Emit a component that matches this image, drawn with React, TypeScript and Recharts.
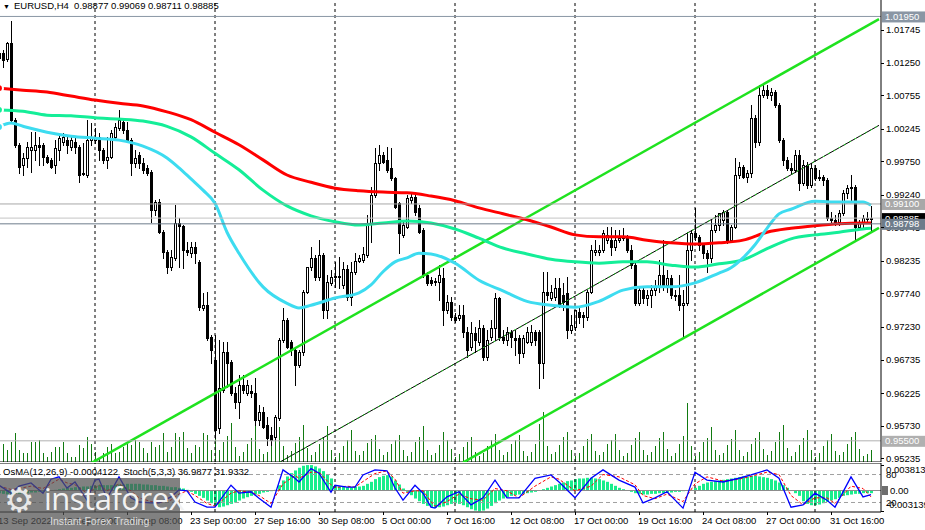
import React from "react"
import { ComposedChart, Bar, Line, XAxis, YAxis, ReferenceLine } from "recharts"

const FONT = "'Liberation Sans', Arial, sans-serif"

// ---- price data (EURUSD H4), one entry per bar ----
const opens = [
  1.0132, 1.0139, 1.013, 1.0155, 1.0038, 1.0, 0.9969, 0.998, 0.9992, 0.9992,
  1.0, 1.0, 0.9981, 0.9977, 0.9969, 0.9992, 1.0004, 1.0007, 0.9997, 1.0004,
  0.9997, 0.9955, 0.9954, 1.0007, 1.0007, 1.0012, 0.9992, 0.9977, 0.9981, 1.0012,
  1.0025, 1.0035, 1.0022, 1.0007, 0.9972, 0.9984, 0.9972, 0.9965, 0.9959, 0.9901,
  0.9913, 0.9867, 0.9837, 0.9814, 0.9828, 0.9881, 0.9877, 0.984, 0.9835, 0.9845,
  0.9822, 0.9752, 0.9756, 0.9708, 0.9673, 0.9569, 0.9627, 0.9685, 0.967, 0.9623,
  0.9609, 0.9635, 0.9623, 0.9626, 0.9623, 0.9582, 0.9594, 0.9574, 0.9559, 0.9556,
  0.9585, 0.9703, 0.9734, 0.97, 0.9688, 0.9665, 0.9685, 0.9776, 0.9814, 0.9828,
  0.9799, 0.9832, 0.9749, 0.979, 0.9799, 0.98, 0.9787, 0.9811, 0.9769, 0.9807,
  0.9823, 0.9825, 0.9832, 0.9881, 0.9924, 0.9972, 0.9984, 0.9977, 0.9965, 0.9949,
  0.9911, 0.9863, 0.9875, 0.9916, 0.9921, 0.9904, 0.987, 0.9802, 0.9794, 0.9793,
  0.9791, 0.9797, 0.9749, 0.9761, 0.9738, 0.9737, 0.9741, 0.9715, 0.9693, 0.9714,
  0.97, 0.9721, 0.9677, 0.9708, 0.9721, 0.9767, 0.9708, 0.9703, 0.9715, 0.9706,
  0.9706, 0.9683, 0.97, 0.97, 0.9715, 0.9715, 0.9668, 0.9776, 0.9767, 0.9769,
  0.9782, 0.9772, 0.9775, 0.9718, 0.9723, 0.9746, 0.9741, 0.9738, 0.9776, 0.9837,
  0.9837, 0.984, 0.9855, 0.9855, 0.9845, 0.9855, 0.9858, 0.986, 0.984, 0.9817,
  0.9759, 0.9779, 0.9767, 0.9772, 0.9779, 0.9784, 0.9802, 0.9787, 0.9797, 0.9772,
  0.9772, 0.9756, 0.9759, 0.984, 0.9866, 0.986, 0.9848, 0.9835, 0.9828, 0.987,
  0.9878, 0.9886, 0.9898, 0.9855, 0.9875, 0.9954, 0.9966, 0.9951, 0.9957, 1.0041,
  1.0004, 1.0076, 1.0083, 1.0076, 1.008, 1.006, 1.0007, 0.9977, 0.9965, 0.9962,
  0.9984, 0.9942, 0.9969, 0.9939, 0.9965, 0.9949, 0.9951, 0.9946, 0.9889, 0.9886,
  0.9883, 0.9896, 0.9927, 0.9934, 0.9936, 0.9875, 0.9883, 0.9889, 0.98877,
]
const highs = [
  1.0144, 1.0144, 1.0156, 1.0188, 1.0041, 1.0003, 0.9987, 1.0004, 1.0019, 1.0019,
  1.0012, 1.0003, 0.9984, 0.998, 1.0007, 1.0015, 1.0018, 1.0012, 1.0012, 1.0012,
  1.0, 1.0003, 1.0038, 1.0033, 1.0025, 1.0018, 0.9995, 1.0012, 1.0022, 1.0033,
  1.0053, 1.0041, 1.0035, 1.001, 0.9992, 0.9989, 0.998, 0.9969, 0.9962, 0.9916,
  0.9918, 0.987, 0.984, 0.984, 0.9908, 0.9889, 0.9878, 0.9852, 0.9852, 0.9852,
  0.9825, 0.9775, 0.9776, 0.9711, 0.9711, 0.9703, 0.97, 0.97, 0.9673, 0.9632,
  0.965, 0.965, 0.9642, 0.9635, 0.9645, 0.9604, 0.9601, 0.9586, 0.9571, 0.9589,
  0.9706, 0.9752, 0.9737, 0.9703, 0.9693, 0.9688, 0.9779, 0.9814, 0.9845, 0.9832,
  0.9855, 0.9835, 0.9802, 0.981, 0.9822, 0.9829, 0.9822, 0.9817, 0.9822, 0.9835,
  0.9832, 0.9845, 0.9893, 0.9936, 0.9995, 1.0, 0.9989, 0.9997, 0.9995, 0.9951,
  0.9913, 0.9883, 0.9924, 0.9927, 0.9924, 0.9908, 0.9873, 0.9807, 0.9799, 0.9797,
  0.9817, 0.9813, 0.9772, 0.9769, 0.9744, 0.9756, 0.9756, 0.9723, 0.9731, 0.9723,
  0.9734, 0.9726, 0.9718, 0.9734, 0.9775, 0.9769, 0.9718, 0.9723, 0.9718, 0.9718,
  0.9711, 0.9711, 0.9723, 0.9726, 0.9718, 0.9718, 0.9807, 0.9807, 0.9787, 0.9797,
  0.9797, 0.979, 0.9799, 0.9741, 0.9749, 0.9752, 0.9746, 0.9779, 0.9848, 0.9855,
  0.9848, 0.987, 0.9875, 0.9875, 0.987, 0.987, 0.9873, 0.9863, 0.9848, 0.982,
  0.9784, 0.9782, 0.9779, 0.9787, 0.9794, 0.9825, 0.9855, 0.981, 0.9802, 0.9779,
  0.9802, 0.9779, 0.9867, 0.987, 0.9904, 0.9863, 0.9851, 0.984, 0.9886, 0.9893,
  0.9896, 0.9901, 0.9901, 0.9878, 0.998, 0.9974, 0.9969, 0.9962, 1.006, 1.0045,
  1.0091, 1.0094, 1.0091, 1.0086, 1.0083, 1.0063, 1.001, 0.9981, 0.9972, 0.9992,
  0.9992, 0.9977, 0.9974, 0.9972, 0.9969, 0.9962, 0.9954, 0.9949, 0.9898, 0.9893,
  0.9901, 0.9931, 0.9939, 0.9954, 0.9939, 0.9886, 0.9893, 0.9898, 0.99069,
]
const lows = [
  1.0126, 1.0118, 1.0127, 1.0035, 0.9997, 0.9957, 0.9954, 0.9966, 0.9959, 0.9977,
  0.9969, 0.9969, 0.9972, 0.9965, 0.9957, 0.9977, 1.0, 0.9987, 0.9992, 0.9987,
  0.9943, 0.9954, 0.9951, 1.0, 1.0003, 0.9977, 0.9972, 0.9965, 0.998, 1.0007,
  1.0022, 1.0018, 1.0004, 0.9954, 0.9966, 0.9965, 0.9957, 0.9954, 0.9883, 0.9893,
  0.9866, 0.9828, 0.9805, 0.981, 0.9825, 0.9814, 0.9813, 0.9832, 0.9829, 0.982,
  0.9749, 0.9749, 0.9703, 0.9668, 0.9554, 0.9562, 0.9624, 0.9632, 0.962, 0.96,
  0.9585, 0.9623, 0.962, 0.9617, 0.9574, 0.9574, 0.9569, 0.9544, 0.9544, 0.9551,
  0.9582, 0.97, 0.9691, 0.968, 0.9635, 0.9662, 0.968, 0.9775, 0.981, 0.9794,
  0.9794, 0.9737, 0.9737, 0.9787, 0.9784, 0.9782, 0.9782, 0.9764, 0.9756, 0.9804,
  0.9822, 0.9822, 0.9829, 0.9852, 0.9921, 0.9962, 0.9972, 0.9959, 0.9946, 0.9904,
  0.9835, 0.986, 0.9873, 0.9911, 0.9893, 0.9866, 0.9799, 0.9787, 0.9787, 0.9787,
  0.9764, 0.9726, 0.9744, 0.9734, 0.9731, 0.9734, 0.9708, 0.9677, 0.9688, 0.9685,
  0.9696, 0.9673, 0.9673, 0.9703, 0.9703, 0.9703, 0.9699, 0.9696, 0.9693, 0.968,
  0.9668, 0.9677, 0.9699, 0.9696, 0.9696, 0.963, 0.9645, 0.9764, 0.9764, 0.9764,
  0.9753, 0.9749, 0.9706, 0.9714, 0.9718, 0.9729, 0.9723, 0.9734, 0.9775, 0.9832,
  0.9832, 0.9837, 0.9851, 0.9832, 0.984, 0.9852, 0.9855, 0.9837, 0.9813, 0.9756,
  0.9756, 0.9759, 0.9756, 0.9753, 0.9772, 0.9776, 0.9779, 0.9776, 0.9767, 0.9764,
  0.9749, 0.9708, 0.9756, 0.9825, 0.9855, 0.984, 0.9828, 0.9807, 0.9822, 0.9867,
  0.987, 0.9878, 0.9851, 0.9852, 0.9873, 0.9949, 0.9949, 0.9943, 0.9951, 0.9997,
  1.0, 1.0073, 1.0071, 1.0068, 1.0057, 1.0004, 0.9969, 0.9962, 0.9957, 0.9959,
  0.9931, 0.9939, 0.9934, 0.9936, 0.9946, 0.9946, 0.9939, 0.9886, 0.9883, 0.9878,
  0.9878, 0.9893, 0.9919, 0.9916, 0.9855, 0.9873, 0.9873, 0.9883, 0.98711,
]
const closes = [
  1.0139, 1.0129, 1.0155, 1.0038, 1.0, 0.9966, 0.998, 0.9997, 0.9997, 1.0,
  0.9997, 0.9981, 0.9974, 0.9966, 0.9995, 1.001, 1.0012, 1.0, 1.0007, 0.9997,
  0.9954, 0.9957, 1.0007, 1.001, 1.0012, 0.9992, 0.9977, 0.9981, 1.0018, 1.0027,
  1.0038, 1.0022, 1.0007, 0.9972, 0.998, 0.9972, 0.9962, 0.9957, 0.9901, 0.9913,
  0.9867, 0.9837, 0.9814, 0.9829, 0.9881, 0.9877, 0.984, 0.9837, 0.9845, 0.9835,
  0.9753, 0.9756, 0.9706, 0.9688, 0.9566, 0.963, 0.9685, 0.9668, 0.9623, 0.9609,
  0.9635, 0.9627, 0.9635, 0.9623, 0.9582, 0.9594, 0.9571, 0.9554, 0.9551, 0.9586,
  0.9703, 0.9734, 0.9693, 0.9688, 0.9665, 0.9685, 0.9776, 0.9814, 0.9828, 0.9799,
  0.9832, 0.9749, 0.9791, 0.9799, 0.98, 0.9801, 0.9811, 0.9769, 0.9807, 0.9823,
  0.9828, 0.9834, 0.9881, 0.9924, 0.9972, 0.9984, 0.9974, 0.9962, 0.9949, 0.9905,
  0.9866, 0.9878, 0.9919, 0.9921, 0.9898, 0.9867, 0.9802, 0.979, 0.979, 0.9791,
  0.9802, 0.9749, 0.9761, 0.9738, 0.9734, 0.9741, 0.9715, 0.9688, 0.9714, 0.9703,
  0.9721, 0.9677, 0.9703, 0.9721, 0.9767, 0.9708, 0.9703, 0.9715, 0.9708, 0.9703,
  0.9683, 0.9706, 0.9715, 0.9715, 0.9703, 0.9668, 0.9776, 0.9772, 0.9776, 0.9782,
  0.9756, 0.9761, 0.9718, 0.9726, 0.9749, 0.9738, 0.9738, 0.9776, 0.984, 0.984,
  0.984, 0.9866, 0.9863, 0.9845, 0.9855, 0.9858, 0.986, 0.984, 0.9817, 0.9759,
  0.9779, 0.9767, 0.9772, 0.9779, 0.9784, 0.9802, 0.9787, 0.9797, 0.9772, 0.9772,
  0.9756, 0.9759, 0.984, 0.9866, 0.986, 0.9848, 0.9835, 0.9828, 0.987, 0.9878,
  0.9896, 0.9898, 0.9855, 0.9875, 0.9954, 0.9966, 0.9951, 0.9957, 1.0041, 1.0004,
  1.0076, 1.0083, 1.0076, 1.008, 1.006, 1.0007, 0.9977, 0.9965, 0.9962, 0.9984,
  0.9942, 0.9969, 0.9939, 0.9965, 0.9949, 0.9951, 0.9946, 0.9889, 0.9886, 0.9883,
  0.9896, 0.9927, 0.9934, 0.9936, 0.9875, 0.9883, 0.9889, 0.9887, 0.98885,
]
// tick volume (hundreds of ticks)
const volumes = [
  15, 18, 12, 20, 29, 12, 9, 9, 20, 20, 22, 9, 5, 10, 15, 15, 20, 9, 5, 5,
  17, 14, 25, 18, 10, 4, 9, 15, 18, 9, 10, 15, 18, 17, 22, 20, 14, 9, 20, 15,
  17, 29, 10, 15, 29, 25, 30, 14, 9, 17, 15, 29, 27, 12, 24,
  12, 20, 26, 39, 15,
  6, 10, 18, 24, 36, 13,
  8, 10, 20, 26, 35, 16,
  7, 11, 19, 25, 37, 14,
  7, 10, 18, 24, 36, 12,
  5, 9, 16, 22, 32, 11,
  7, 11, 19, 23, 27, 13,
  7, 10, 18, 22, 27, 12,
  6, 10, 20, 25, 36, 12,
  7, 9, 17, 30, 22, 13,
  5, 8, 15, 20, 25, 10,
  6, 9, 16, 22, 28, 12,
  7, 10, 18, 22, 27, 11,
  6, 10, 18, 38, 50, 16,
  8, 10, 17, 25, 30, 12,
  6, 9, 16, 23, 28, 11,
  7, 10, 18, 22, 28, 12,
  6, 9, 17, 24, 30, 12,
  7, 10, 16, 24, 30, 13,
  6, 9, 18, 26, 59, 16,
  6, 10, 20, 24, 35, 12,
  7, 9, 17, 23, 32, 12,
  6, 10, 18, 24, 30, 13,
  7, 11, 20, 30, 37, 14,
  6, 10, 17, 24, 32, 12,
  5, 9, 16, 22, 28, 11,
  7, 10, 18, 25, 30, 13,
  6, 8, 12,
]

// moving averages read at sampled bars: [bar, price]
const maRed: [number, number][] = [
  [0, 1.0086], [6, 1.0083], [12, 1.008], [18, 1.0074], [24, 1.0068], [30, 1.0063], [36, 1.0059],
  [42, 1.005], [48, 1.0038], [54, 1.0019], [60, 1.0], [66, 0.9977], [72, 0.9954], [78, 0.9943],
  [84, 0.9934], [90, 0.993], [96, 0.9928], [102, 0.9927], [108, 0.9922], [114, 0.9915], [120, 0.9904],
  [126, 0.9895], [132, 0.9886], [138, 0.9875], [144, 0.9863], [150, 0.986], [156, 0.986], [162, 0.9855],
  [168, 0.9851], [174, 0.9849], [180, 0.9851], [186, 0.9855], [192, 0.9867], [198, 0.9873], [204, 0.9877],
  [210, 0.988], [216, 0.9881], [218, 0.9881],
]
const maGreen: [number, number][] = [
  [0, 1.0053], [6, 1.0051], [12, 1.0045], [18, 1.0044], [24, 1.0041], [30, 1.0039], [36, 1.0036],
  [42, 1.0028], [48, 1.0012], [54, 0.9987], [60, 0.9962], [66, 0.9931], [72, 0.9907], [78, 0.9892],
  [84, 0.9883], [90, 0.9878], [96, 0.9881], [102, 0.9884], [108, 0.9881], [114, 0.9872], [120, 0.9858],
  [126, 0.9843], [132, 0.9834], [138, 0.9826], [144, 0.9822], [150, 0.982], [156, 0.9822], [162, 0.9822],
  [168, 0.9817], [174, 0.9814], [180, 0.9819], [186, 0.9825], [192, 0.9842], [198, 0.9857], [204, 0.9863],
  [210, 0.9867], [216, 0.9872], [218, 0.9873],
]
const maCyan: [number, number][] = [
  [0, 1.0027], [3, 1.0033], [6, 1.0028], [12, 1.0019], [18, 1.0013], [24, 1.001], [30, 1.0007],
  [36, 0.9998], [42, 0.998], [45, 0.9965], [48, 0.9948], [51, 0.9931], [54, 0.9911], [57, 0.9867],
  [60, 0.9835], [66, 0.9784], [72, 0.9759], [75, 0.9752], [78, 0.9756], [84, 0.9767], [90, 0.9775],
  [93, 0.9787], [96, 0.9807], [99, 0.9822], [102, 0.9828], [105, 0.9835], [108, 0.9834], [114, 0.982],
  [120, 0.9794], [126, 0.9778], [132, 0.9762], [138, 0.9756], [144, 0.9753], [150, 0.9762], [156, 0.9779],
  [162, 0.9784], [168, 0.9784], [174, 0.979], [180, 0.9805], [183, 0.9813], [186, 0.9828], [189, 0.9848],
  [192, 0.9873], [195, 0.9895], [198, 0.9902], [204, 0.9914], [210, 0.9913], [216, 0.9913], [218, 0.9908],
]

// OsMA(12,26,9) per bar, in units of 1e-4
const osma = [
  -4, -5, -6, -6, -5, -5, -4, -4, -3, -3, -2, -2, -1,
  0, 1, 2, 3, 4, 4, 5, 5, 6, 6, 7, 7, 8, 8, 8, 8, 9, 9,
  9, 10, 10, 10, 10, 9, 9, 8, 8, 7, 7, 6, 5, 5,
  4, 3, 1,
  -2, -5, -8, -11, -15, -19, -23, -25, -24, -22, -20,
  -18, -15, -12, -10, -8,
  -6, -5, -3, -2, -1, 1,
  8, 15, 21, 26, 30, 34, 37, 38, 38, 36, 33, 29, 24, 18,
  8, 6, 6, 5, 5, 6, 6, 7,
  10, 13, 17, 20, 22, 23, 21,
  15, 9, 3, -2, -7, -12, -16, -20, -23, -25, -26, -25, -24, -22,
  -20, -19, -20,
  -22, -25, -28, -30, -31, -30, -27, -23, -19, -15,
  -12, -10, -8, -7, -6, -5, -4, -3, -2,
  0, 2, 4,
  6, 8, 10, 12, 14, 15, 17, 18, 18, 19, 19, 18, 17, 15, 13,
  10, 7, 4, 2, 0, -2,
  -4, -5, -6, -6, -5, -5, -4, -4, -3, -3, -2, -2,
  -1, 0, 1,
  4, 7, 10, 12, 13, 14, 15, 16, 17, 18, 19, 20, 21, 21, 22, 22, 21, 20, 19, 17, 15,
  12, 8, 4, 0, -4, -8,
  -16, -20, -22, -22, -21, -19, -17, -15, -13, -11,
  -8, -7, -6, -5, -5, -4, -4, -4,
]
// Stochastic(5,3,3) read at sampled bars: [bar, value]
const stochMain: [number, number][] = [
  [0, 57], [3, 40], [5, 55], [8, 62], [11, 40], [13, 70], [15, 75], [17, 51], [19, 64], [22, 25],
  [24, 68], [25, 70], [27, 29], [30, 75], [33, 30], [35, 21], [38, 19], [40, 19], [43, 32], [45, 47],
  [47, 45], [49, 21], [52, 10], [54, 10], [58, 57], [60, 40], [63, 43], [65, 29], [68, 10], [71, 90],
  [74, 72], [75, 64], [78, 93], [80, 83], [83, 42], [84, 57], [87, 53], [89, 53], [91, 79], [94, 90],
  [97, 88], [99, 51], [101, 25], [104, 57], [106, 40], [108, 10], [109, 8], [112, 32], [115, 43], [118, 15],
  [121, 30], [124, 68], [127, 30], [130, 30], [134, 72], [138, 79], [140, 64], [144, 30], [148, 72], [151, 90],
  [155, 68], [159, 53], [161, 19], [164, 30], [167, 43], [171, 8], [174, 85], [177, 68], [181, 64], [185, 72],
  [188, 79], [192, 90], [195, 72], [198, 10], [201, 15], [204, 40], [207, 25], [209, 10], [213, 75], [216, 32],
  [218, 37],
]
const stochSignal: [number, number][] = [
  [0, 55], [3, 48], [5, 50], [8, 55], [11, 50], [13, 60], [15, 70], [17, 62], [19, 58], [22, 40],
  [24, 50], [25, 58], [27, 45], [30, 60], [33, 45], [35, 30], [38, 22], [40, 20], [43, 25], [45, 38],
  [47, 45], [49, 35], [52, 18], [54, 12], [58, 40], [60, 45], [63, 42], [65, 35], [68, 18], [71, 60],
  [74, 78], [75, 72], [78, 85], [80, 85], [83, 58], [84, 52], [87, 55], [89, 53], [91, 65], [94, 82],
  [97, 88], [99, 70], [101, 40], [104, 45], [106, 45], [108, 22], [109, 12], [112, 22], [115, 38], [118, 28],
  [121, 25], [124, 50], [127, 45], [130, 30], [134, 55], [138, 75], [140, 70], [144, 45], [148, 55], [151, 80],
  [155, 75], [159, 58], [161, 35], [164, 28], [167, 38], [171, 22], [174, 60], [177, 75], [181, 66], [185, 70],
  [188, 76], [192, 85], [195, 80], [198, 35], [201, 15], [204, 30], [207, 30], [209, 18], [213, 55], [216, 50],
  [218, 32],
]

// trend channel lines: [bar1, price1, bar2, price2]
const channels: [number, number, number, number][] = [
  [23, 0.9516, 220, 1.0191],
  [116, 0.9517, 220, 0.98737],
]
const midLine: [number, number, number, number] = [70, 0.9517, 220, 1.00295]

const timeTicks: [number, string][] = [
  [0, "13 Sep 2022"], [16, "15 Sep 16:00"], [32, "20 Sep 08:00"], [48, "23 Sep 00:00"],
  [64, "27 Sep 16:00"], [80, "30 Sep 08:00"], [96, "5 Oct 00:00"], [112, "7 Oct 16:00"],
  [128, "12 Oct 08:00"], [144, "17 Oct 00:00"], [160, "19 Oct 16:00"], [176, "24 Oct 08:00"],
  [192, "27 Oct 00:00"], [208, "31 Oct 16:00"],
]
const weekStarts = [24, 54, 84, 114, 144, 174, 204]
const priceTicks = [
  1.01745, 1.0125, 1.00755, 1.00245, 0.9975, 0.9924, 0.98745, 0.98235, 0.9774, 0.9723,
  0.96735, 0.96225, 0.9573, 0.95235,
]
const PRICE_MIN = 0.95178
const PRICE_MAX = 1.022
const levelPrices = [1.0195, 0.991, 0.955, 0.98885, 0.98798]
const OS_TOP = 0.0038137
const OS_BOTTOM = -0.003139
const OS_MIN = -0.003214
const OS_MAX = 0.004113
const ST_MIN = -0.4
const ST_MAX = 104.7
const stochLevels = [80, 20]

const SLOTS = opens.length + 2

type Row = {
  i: number
  range: [number, number] | null
  o?: number
  h?: number
  l?: number
  c?: number
  vol: number | null
  red: number | null
  green: number | null
  cyan: number | null
  osma: number | null
  sm: number | null
  ss: number | null
}

const rows: Row[] = Array.from({ length: SLOTS }, (_, i) => ({
  i,
  range: i < opens.length ? [lows[i], highs[i]] : null,
  o: opens[i],
  h: highs[i],
  l: lows[i],
  c: closes[i],
  vol: i < volumes.length ? volumes[i] : null,
  red: null,
  green: null,
  cyan: null,
  osma: i < osma.length ? osma[i] / 10000 : null,
  sm: null,
  ss: null,
}))
maRed.forEach(([i, v]) => (rows[i].red = v))
maGreen.forEach(([i, v]) => (rows[i].green = v))
maCyan.forEach(([i, v]) => (rows[i].cyan = v))
stochMain.forEach(([i, v]) => (rows[i].sm = v))
stochSignal.forEach(([i, v]) => (rows[i].ss = v))

const tickLabel = new Map(timeTicks)

function Candle(props: any) {
  const { x, y, width, height, payload } = props
  if (!payload || payload.o == null) return null
  const { o, h, l, c } = payload
  const cx = Math.round(x + width / 2)
  const span = h - l
  const py = (v: number) => (span > 0 ? y + ((h - v) / span) * height : y)
  const top = Math.round(py(Math.max(o, c)))
  const bottom = Math.round(py(Math.min(o, c)))
  const up = c >= o
  return (
    <g>
      <line x1={cx + 0.5} x2={cx + 0.5} y1={Math.round(y)} y2={Math.round(y + height) + 1} stroke="#000" />
      {up ? (
        <rect x={cx - 0.5} y={top + 0.5} width={2} height={Math.max(bottom - top, 1)} fill="#fff" stroke="#000" />
      ) : (
        <rect x={cx - 1} y={top} width={3} height={Math.max(bottom - top + 1, 1)} fill="#000" />
      )}
    </g>
  )
}

function VolumeStick(props: any) {
  const { x, y, width, height } = props
  if (!height || height <= 0) return null
  const cx = Math.round(x + width / 2) + 0.5
  return <line x1={cx} x2={cx} y1={y} y2={y + height} stroke="#117a11" />
}

function TickMark(props: any) {
  const { x, y } = props
  return <line x1={x} x2={x + 3} y1={Math.round(y) + 0.5} y2={Math.round(y) + 0.5} stroke="#000" />
}

function AxisText(props: any) {
  const { viewBox, text } = props
  if (!viewBox) return null
  const right = viewBox.x + viewBox.width
  return (
    <text x={right + 5} y={viewBox.y + 3.5} fontSize={9.5} fontFamily={FONT} fill="#000">
      {text}
    </text>
  )
}

function LevelTag(props: any) {
  const { viewBox, text, bg } = props
  if (!viewBox) return null
  const right = viewBox.x + viewBox.width
  return (
    <g>
      <rect x={right + 1} y={viewBox.y - 5} width={44} height={11} fill={bg} />
      <text x={right + 4} y={viewBox.y + 3.5} fontSize={9.5} fontFamily={FONT} fill="#fff">
        {text}
      </text>
    </g>
  )
}

function OsTick(props: any) {
  const { x, y, payload } = props
  const v = payload.value
  if (v === 0) {
    return (
      <g>
        <rect x={x + 1} y={y - 4.5} width={6} height={9} fill="#6e6e6e" />
        <text x={x + 9} y={y + 3.5} fontSize={9.5} fontFamily={FONT} fill="#000">
          0.00
        </text>
      </g>
    )
  }
  const label = v > 0 ? v.toFixed(7) : v.toFixed(6)
  const dy = v > 0 ? 8 : -3
  return (
    <g>
      <line x1={x} x2={x + 3} y1={Math.round(y) + 0.5} y2={Math.round(y) + 0.5} stroke="#000" />
      <text x={x + 5} y={y + dy} fontSize={9.5} fontFamily={FONT} fill="#000">
        {label}
      </text>
    </g>
  )
}

function TimeTick(props: any) {
  const { x, y, payload } = props
  return (
    <g>
      <line x1={Math.round(x) + 0.5} x2={Math.round(x) + 0.5} y1={y} y2={y + 3} stroke="#000" />
      <text x={x - 1} y={y + 12} fontSize={9.5} fontFamily={FONT} fill="#000">
        {tickLabel.get(payload.value)}
      </text>
    </g>
  )
}

const levelStyle: Record<string, { line: string; tag: string }> = {
  "1.0195": { line: "#8a96a4", tag: "#8a96a4" },
  "0.991": { line: "#a8a8a8", tag: "#a8a8a8" },
  "0.955": { line: "#b0b0b0", tag: "#b0b0b0" },
  "0.98885": { line: "#c4c4c4", tag: "#000000" },
  "0.98798": { line: "#6e7c8b", tag: "#6e7c8b" },
}

export default function App() {
  return (
    <div
      style={{
        position: "absolute",
        left: 0,
        top: 0,
        width: 925,
        height: 530,
        overflow: "hidden",
        background: "#fff",
        fontFamily: FONT,
      }}
    >
      <div style={{ position: "absolute", left: -3, top: 0 }}>
        <ComposedChart width={928} height={462} data={rows} margin={{ top: 0, right: 0, bottom: 0, left: 0 }}>
          <XAxis xAxisId="m" dataKey="i" type="category" hide />
          <XAxis xAxisId="v" dataKey="i" type="category" hide />
          <YAxis
            yAxisId="p"
            orientation="right"
            width={44}
            domain={[PRICE_MIN, PRICE_MAX]}
            allowDataOverflow
            ticks={priceTicks}
            interval={0}
            tick={<TickMark />}
            tickLine={false}
            tickSize={0}
            tickMargin={0}
            axisLine={{ stroke: "#000" }}
          />
          <YAxis yAxisId="v" hide domain={[0, 462]} />
          <Bar xAxisId="v" yAxisId="v" dataKey="vol" shape={<VolumeStick />} isAnimationActive={false} />
          {weekStarts.map((w) => (
            <ReferenceLine key={w} xAxisId="m" yAxisId="p" x={w} stroke="#000" strokeDasharray="3 3" />
          ))}
          <ReferenceLine xAxisId="m" yAxisId="p" y={PRICE_MIN} stroke="#000" />
          <Bar xAxisId="m" yAxisId="p" dataKey="range" shape={<Candle />} isAnimationActive={false} />
          {channels.map(([i1, p1, i2, p2], k) => (
            <ReferenceLine
              key={k}
              xAxisId="m"
              yAxisId="p"
              segment={[
                { x: i1, y: p1 },
                { x: i2, y: p2 },
              ]}
              stroke="#1fe21f"
              strokeWidth={2.5}
              ifOverflow="hidden"
            />
          ))}
          <ReferenceLine
            xAxisId="m"
            yAxisId="p"
            segment={[
              { x: midLine[0], y: midLine[1] },
              { x: midLine[2], y: midLine[3] },
            ]}
            stroke="#000"
            strokeWidth={1}
            ifOverflow="hidden"
          />
          <ReferenceLine
            xAxisId="m"
            yAxisId="p"
            segment={[
              { x: midLine[0], y: midLine[1] },
              { x: midLine[2], y: midLine[3] },
            ]}
            stroke="#22dd22"
            strokeWidth={1}
            strokeDasharray="2 4"
            ifOverflow="hidden"
          />
          <Line xAxisId="m" yAxisId="p" dataKey="red" stroke="#ff0000" strokeWidth={3} dot={false} connectNulls type="monotone" isAnimationActive={false} />
          <Line xAxisId="m" yAxisId="p" dataKey="green" stroke="#14ee98" strokeWidth={3} dot={false} connectNulls type="monotone" isAnimationActive={false} />
          <Line xAxisId="m" yAxisId="p" dataKey="cyan" stroke="#3ddcf0" strokeWidth={3} dot={false} connectNulls type="monotone" isAnimationActive={false} />
          {priceTicks.map((p) => (
            <ReferenceLine
              key={"t" + p}
              xAxisId="m"
              yAxisId="p"
              y={p}
              stroke="none"
              label={<AxisText text={p.toFixed(5)} />}
            />
          ))}
          {levelPrices.map((p) => {
            const s = levelStyle[String(p)]
            return (
              <ReferenceLine
                key={p}
                xAxisId="m"
                yAxisId="p"
                y={p}
                stroke={s.line}
                label={<LevelTag text={p.toFixed(5)} bg={s.tag} />}
              />
            )
          })}
        </ComposedChart>
      </div>

      <div style={{ position: "absolute", left: -3, top: 463 }}>
        <ComposedChart width={928} height={67} data={rows} margin={{ top: 0, right: 0, bottom: 0, left: 0 }}>
          <XAxis
            xAxisId="t"
            dataKey="i"
            type="category"
            ticks={timeTicks.map((t) => t[0])}
            interval={0}
            tick={<TimeTick />}
            tickLine={false}
            tickSize={0}
            tickMargin={0}
            height={18}
            axisLine={{ stroke: "#000" }}
          />
          <YAxis
            yAxisId="os"
            orientation="right"
            width={44}
            domain={[OS_MIN, OS_MAX]}
            allowDataOverflow
            ticks={[OS_TOP, 0, OS_BOTTOM]}
            interval={0}
            tick={<OsTick />}
            tickLine={false}
            tickSize={0}
            tickMargin={0}
            axisLine={{ stroke: "#000" }}
          />
          <YAxis yAxisId="st" hide domain={[ST_MIN, ST_MAX]} allowDataOverflow />
          <ReferenceLine xAxisId="t" yAxisId="os" y={OS_MAX} stroke="#000" />
          {stochLevels.map((v) => (
            <ReferenceLine
              key={v}
              xAxisId="t"
              yAxisId="st"
              y={v}
              stroke="#a0a0a0"
              strokeDasharray="4 3"
              label={<AxisText text={String(v)} />}
            />
          ))}
          <ReferenceLine xAxisId="t" yAxisId="os" y={0} stroke="#8c8c8c" />
          {weekStarts.map((w) => (
            <ReferenceLine key={w} xAxisId="t" yAxisId="os" x={w} stroke="#000" strokeDasharray="3 3" />
          ))}
          <Bar xAxisId="t" yAxisId="os" dataKey="osma" fill="#18ee8c" barSize={3} isAnimationActive={false} />
          <Line xAxisId="t" yAxisId="st" dataKey="ss" stroke="#ff0000" strokeWidth={1} strokeDasharray="3 2" dot={false} connectNulls isAnimationActive={false} />
          <Line xAxisId="t" yAxisId="st" dataKey="sm" stroke="#0000ff" strokeWidth={1.3} dot={false} connectNulls isAnimationActive={false} />
        </ComposedChart>
      </div>

      <div style={{ position: "absolute", left: 3, top: 0, fontSize: 9.5, lineHeight: "12px", whiteSpace: "pre", color: "#000" }}>
        <span style={{ fontSize: 7, marginRight: 4 }}>▼</span>EURUSD,H4  0.98877 0.99069 0.98711 0.98885
      </div>
      <div style={{ position: "absolute", left: 3, top: 466, fontSize: 9.5, lineHeight: "12px", whiteSpace: "pre", color: "#000" }}>
        OsMA(12,26,9) -0.0004122  Stoch(5,3,3) 36.9877 31.9332
      </div>

      <div
        style={{
          position: "absolute",
          left: 0,
          top: 478,
          width: 180,
          height: 52,
          background: "rgba(80,80,80,0.72)",
          color: "#f2f2f2",
        }}
      >
        <div style={{ position: "absolute", left: 4, top: 2, fontSize: 34, lineHeight: "40px", fontFamily: "'DejaVu Sans', sans-serif", color: "#e8e8e8" }}>⚙</div>
        <div style={{ position: "absolute", left: 44, top: 2, fontSize: 31, lineHeight: "36px", letterSpacing: -0.5, fontFamily: "'Open Sans', sans-serif" }}>
          instaforex
        </div>
        <div style={{ position: "absolute", left: 50, top: 37, fontSize: 10.5, lineHeight: "12px", color: "#dcdcdc" }}>
          Instant Forex Trading
        </div>
      </div>
    </div>
  )
}
